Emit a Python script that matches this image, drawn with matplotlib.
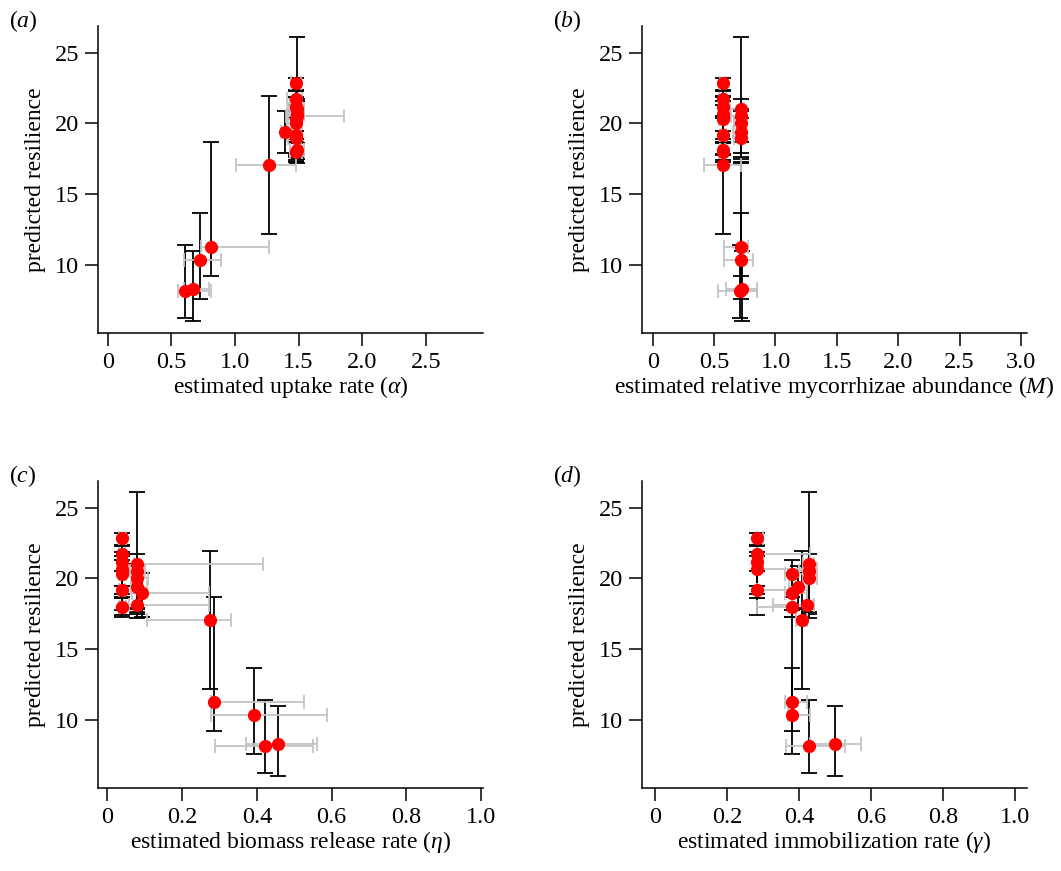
import numpy as np
import matplotlib
matplotlib.use("Agg")
import matplotlib.pyplot as plt

plt.rcParams["font.family"] = ["Liberation Serif", "DejaVu Serif"]
plt.rcParams["mathtext.fontset"] = "custom"
plt.rcParams["mathtext.rm"] = "Liberation Serif"
plt.rcParams["mathtext.it"] = "Liberation Serif:italic"
plt.rcParams["font.size"] = 17

# predicted resilience per site, with lower/upper interval
resilience = [22.85, 21.7, 21.2, 20.7, 20.3, 19.2, 18.0, 17.07,
              21.0, 20.5, 20.0, 19.4, 18.95, 18.1,
              11.27, 10.33, 8.12, 8.25]
res_lo = [22.36, 19.5, 18.9, 18.6, 17.8, 17.4, 17.3, 12.17,
          17.2, 17.5, 17.6, 17.9, 17.3, 17.84,
          9.2, 7.6, 6.25, 6.0]
res_hi = [23.2, 22.3, 21.9, 21.6, 21.3, 20.5, 18.7, 21.96,
          26.1, 21.7, 21.0, 20.9, 20.4, 20.36,
          18.66, 13.65, 11.4, 10.95]

# (a) uptake rate alpha
alpha = [1.48, 1.48, 1.48, 1.49, 1.48, 1.48, 1.48, 1.27,
         1.49, 1.49, 1.48, 1.39, 1.48, 1.49,
         0.81, 0.727, 0.61, 0.674]
alpha_lo = [1.44, 1.41, 1.43, 1.41, 1.42, 1.41, 1.43, 1.01,
            1.42, 1.40, 1.41, 1.36, 1.42, 1.43,
            0.73, 0.60, 0.55, 0.60]
alpha_hi = [1.52, 1.53, 1.52, 1.54, 1.53, 1.52, 1.53, 1.48,
            1.54, 1.86, 1.53, 1.45, 1.52, 1.54,
            1.27, 0.89, 0.81, 0.80]

# (b) relative mycorrhizae abundance M
myco = [0.571, 0.571, 0.571, 0.571, 0.571, 0.571, 0.571, 0.571,
        0.715, 0.715, 0.715, 0.715, 0.715, 0.571,
        0.715, 0.72, 0.71, 0.73]
myco_lo = [0.55, 0.54, 0.55, 0.55, 0.54, 0.55, 0.54, 0.42,
           0.63, 0.64, 0.66, 0.65, 0.66, 0.55,
           0.579, 0.58, 0.53, 0.60]
myco_hi = [0.59, 0.60, 0.59, 0.60, 0.59, 0.60, 0.59, 0.715,
           0.74, 0.74, 0.73, 0.74, 0.73, 0.59,
           0.775, 0.82, 0.85, 0.85]

# (c) biomass release rate eta
eta = [0.040, 0.040, 0.040, 0.040, 0.040, 0.040, 0.040, 0.274,
       0.080, 0.080, 0.080, 0.080, 0.092, 0.080,
       0.285, 0.392, 0.421, 0.456]
eta_lo = [0.030, 0.032, 0.030, 0.031, 0.030, 0.032, 0.030, 0.107,
          0.070, 0.060, 0.065, 0.062, 0.067, 0.057,
          0.276, 0.276, 0.287, 0.37]
eta_hi = [0.050, 0.048, 0.052, 0.049, 0.050, 0.048, 0.050, 0.33,
          0.416, 0.100, 0.110, 0.105, 0.272, 0.271,
          0.526, 0.588, 0.551, 0.561]

# (d) immobilization rate gamma
gamma = [0.283, 0.283, 0.283, 0.283, 0.379, 0.283, 0.379, 0.406,
         0.428, 0.428, 0.428, 0.395, 0.379, 0.42,
         0.379, 0.379, 0.428, 0.50]
gamma_lo = [0.283, 0.283, 0.283, 0.283, 0.36, 0.283, 0.283, 0.39,
            0.41, 0.40, 0.41, 0.37, 0.36, 0.328,
            0.36, 0.367, 0.363, 0.43]
gamma_hi = [0.30, 0.43, 0.30, 0.45, 0.43, 0.42, 0.379, 0.42,
            0.44, 0.44, 0.45, 0.42, 0.42, 0.44,
            0.42, 0.43, 0.527, 0.57]

panels = [
    ("a", alpha, alpha_lo, alpha_hi, r"estimated uptake rate ($\alpha$)",
     [0, 0.5, 1.0, 1.5, 2.0, 2.5], ["0", "0.5", "1.0", "1.5", "2.0", "2.5"], (-0.076, 2.95)),
    ("b", myco, myco_lo, myco_hi, r"estimated relative mycorrhizae abundance ($M$)",
     [0, 0.5, 1.0, 1.5, 2.0, 2.5, 3.0], ["0", "0.5", "1.0", "1.5", "2.0", "2.5", "3.0"], (-0.088, 3.05)),
    ("c", eta, eta_lo, eta_hi, r"estimated biomass release rate ($\eta$)",
     [0, 0.2, 0.4, 0.6, 0.8, 1.0], ["0", "0.2", "0.4", "0.6", "0.8", "1.0"], (-0.025, 1.005)),
    ("d", gamma, gamma_lo, gamma_hi, r"estimated immobilization rate ($\gamma$)",
     [0, 0.2, 0.4, 0.6, 0.8, 1.0], ["0", "0.2", "0.4", "0.6", "0.8", "1.0"], (-0.037, 1.032)),
]

W, H = 1061, 871
fig = plt.figure(figsize=(W / 100, H / 100), dpi=100)
boxes = [(98, 26, 483, 333), (642, 26, 1027, 333),
         (98, 481, 483, 788), (642, 481, 1027, 788)]

y = np.array(resilience)
yerr = np.vstack([y - np.array(res_lo), np.array(res_hi) - y])

for (tag, xv, xlo, xhi, xlabel, xt, xtl, xlim), (l, t, r, b) in zip(panels, boxes):
    ax = fig.add_axes([l / W, 1 - b / H, (r - l) / W, (b - t) / H])
    x = np.array(xv)
    xerr = np.vstack([x - np.array(xlo), np.array(xhi) - x])
    ax.errorbar(x, y, yerr=yerr, fmt="none", ecolor="black", elinewidth=1.3,
                capsize=6, capthick=1.3, zorder=2)
    ax.errorbar(x, y, xerr=xerr, fmt="none", ecolor="#c4c4c4", elinewidth=1.3,
                capsize=5, capthick=1.3, zorder=3)
    ax.plot(x, y, "o", color="red", markersize=8.5, zorder=4)

    ax.set_xlim(*xlim)
    ax.set_ylim(5.17, 26.9)
    ax.set_xticks(xt)
    ax.set_xticklabels(xtl)
    ax.set_yticks([10, 15, 20, 25])
    for s in ["top", "right"]:
        ax.spines[s].set_visible(False)
    for s in ["left", "bottom"]:
        ax.spines[s].set_linewidth(1.1)
    ax.tick_params(direction="out", length=9.5, width=1.1, labelsize=17.5, pad=4)
    ax.set_xlabel(xlabel, fontsize=17, labelpad=1)
    ax.set_ylabel("predicted resilience", fontsize=17, labelpad=6)
    ax.text(-0.23, 1.06, r"($%s$)" % tag, transform=ax.transAxes, fontsize=17,
            ha="left", va="top")

fig.savefig("out.png", dpi=100)
